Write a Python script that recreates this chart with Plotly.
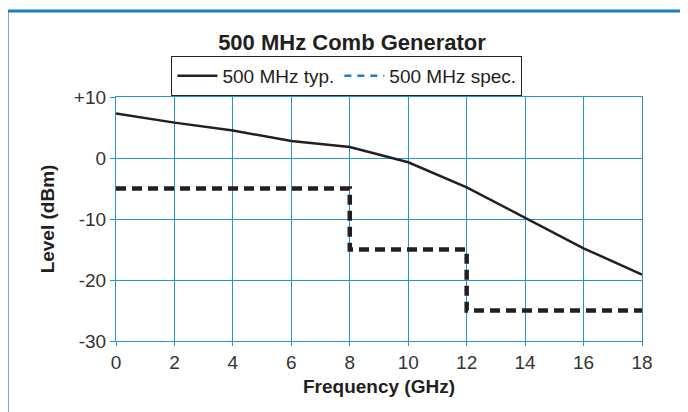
import plotly.graph_objects as go

freq_typ = [0, 2, 4, 6, 8, 10, 12, 14, 16, 18]
level_typ = [7.3, 5.8, 4.5, 2.8, 1.8, -0.7, -4.8, -9.8, -14.8, -19.1]

freq_spec = [0, 8, 8, 12, 12, 18]
level_spec = [-5, -5, -15, -15, -25, -25]

x_ticks = [0, 2, 4, 6, 8, 10, 12, 14, 16, 18]
y_ticks = [-30, -20, -10, 0, 10]
y_ticktext = ["-30", "-20", "-10", "0", "+10"]

BLUE = "#2b8fd1"
FONT = "Liberation Sans, Arial, sans-serif"

fig = go.Figure()
fig.add_trace(go.Scatter(x=freq_typ, y=level_typ, mode="lines", name="500 MHz typ.",
                         line=dict(color="#231f20", width=2.5)))
fig.add_trace(go.Scatter(x=freq_spec, y=level_spec, mode="lines", name="500 MHz spec.",
                         line=dict(color="#231f20", width=4.5, dash="10px,6px"), showlegend=False))
fig.add_trace(go.Scatter(x=[None], y=[None], mode="lines", name="500 MHz spec.",
                         line=dict(color="#1b7fc6", width=2.5, dash="7px,6px")))

fig.update_layout(
    width=680, height=404,
    margin=dict(l=108, r=46, t=89, b=71),
    paper_bgcolor="white", plot_bgcolor="white",
    font=dict(family=FONT, size=18, color="#231f20"),
    title=dict(text="<b>500 MHz Comb Generator</b>", x=344 / 680, xanchor="center",
               y=1 - 34 / 404, yanchor="middle", font=dict(size=22, color="#231f20")),
    legend=dict(orientation="h", x=0.439, xanchor="center", y=1.168, yanchor="top",
                bordercolor="#231f20", borderwidth=1, bgcolor="white",
                font=dict(size=19, color="#231f20"), itemwidth=40, tracegroupgap=0),
    showlegend=True,
    shapes=[dict(type="rect", xref="paper", yref="paper", x0=-0.207, x1=1.3, y0=-0.6, y1=1.352,
                 line=dict(color="#1b7fc6", width=3), layer="below")],
)
fig.update_xaxes(range=[0, 18], tickvals=x_ticks, showgrid=True, gridcolor=BLUE, gridwidth=1.2,
                 showline=True, linecolor=BLUE, linewidth=1.2, mirror=True,
                 ticks="outside", ticklen=4, tickcolor=BLUE, zeroline=False,
                 tickfont=dict(size=19, color="#333333"),
                 title=dict(text="<b>Frequency (GHz)</b>", standoff=7, font=dict(size=19)))
fig.update_yaxes(range=[-30, 10], tickvals=y_ticks, ticktext=y_ticktext, showgrid=True,
                 gridcolor=BLUE, gridwidth=1.2,
                 showline=True, linecolor=BLUE, linewidth=1.2, mirror=True,
                 ticks="outside", ticklen=5, tickcolor=BLUE, zeroline=False,
                 tickfont=dict(size=19, color="#333333"),
                 title=dict(text="<b>Level (dBm)</b>", standoff=14, font=dict(size=19)))

fig.write_html("out.html")
